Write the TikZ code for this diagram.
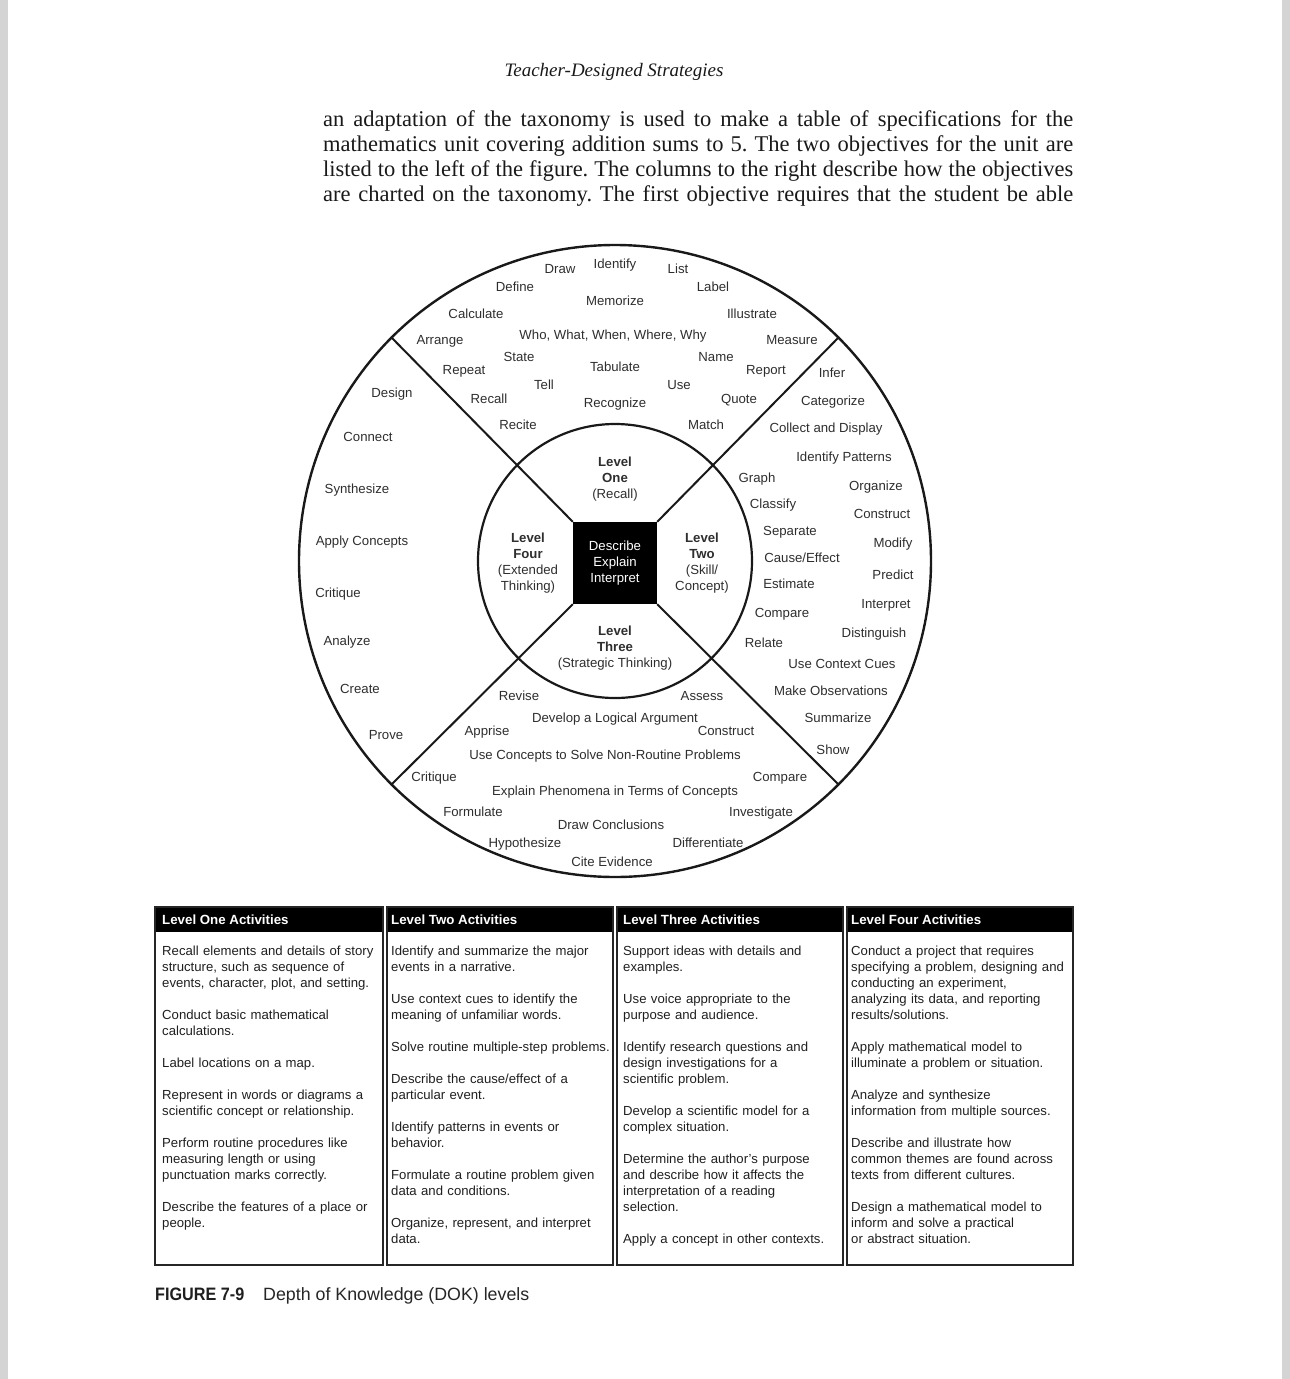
\documentclass[tikz,border=0pt]{standalone}
\usepackage{fontspec}
\setmainfont{Liberation Serif}
\setsansfont{Liberation Sans}
\usepackage{graphicx}
\frenchspacing
\colorlet{inkgray}{black!82}
\colorlet{pagegray}{black!17}
\tikzset{
  wlabel/.style={font=\sffamily\fontsize{13.2}{16}\selectfont, text=inkgray, inner sep=0pt, text height=9.5pt, text depth=0pt},
  levelbox/.style={font=\sffamily\fontsize{13.2}{16}\selectfont, text=inkgray, align=center, inner sep=0pt},
  wheelline/.style={draw=black!90, line width=2.2pt},
  colbox/.style={draw=black!85, line width=1.8pt},
  colhead/.style={font=\sffamily\bfseries\fontsize{13.3}{16}\selectfont, text=white, anchor=west, inner sep=0pt, text height=9.5pt, text depth=0pt},
  coltext/.style={font=\sffamily\fontsize{13.15}{16}\selectfont, text=black!88, anchor=north west, inner sep=0pt, text width=300pt, align=left},
  bodyline/.style={font=\fontsize{22.5}{25}\selectfont, text=black!90, anchor=base west, inner sep=0pt},
}
\begin{document}
\begin{tikzpicture}[x=1pt, y=-1pt]
  \useasboundingbox (0,0) rectangle (1290,1379);
  % Page edges
  \fill[pagegray] (0,0) rectangle (8,1379);
  \fill[pagegray] (1282,0) rectangle (1290,1379);
  % Running head and text
  \node[font=\itshape\fontsize{19}{22}\selectfont, text=black!90, anchor=base, inner sep=0pt] (runhead) at (614,76) {Teacher-Designed Strategies};
  \foreach \ln/\y [count=\i] in {
      {an adaptation of the taxonomy is used to make a table of specifications for the}/126,
      {mathematics unit covering addition sums to 5. The two objectives for the unit are}/151,
      {listed to the left of the figure. The columns to the right describe how the objectives}/176,
      {are charted on the taxonomy. The first objective requires that the student be able}/201}
    \node[bodyline] (line\i) at (323,\y) {\makebox[750pt][s]{\ln}};

  % Wheel
  \coordinate (hub) at (615,561);
  \draw[wheelline, line width=2.4pt] (hub) circle[radius=316];
  \draw[wheelline] (hub) circle[radius=137];
  \node[fill=black, minimum width=84pt, minimum height=82pt, inner sep=0pt, text=white, align=center,
        font=\sffamily\fontsize{13.2}{16}\selectfont] (core) at (615,563) {Describe\\Explain\\Interpret};
  \draw[wheelline, line width=2pt] (core.north west) -- ([shift={(225:317)}]hub);
  \draw[wheelline, line width=2pt] (core.north east) -- ([shift={(315:317)}]hub);
  \draw[wheelline, line width=2pt] (core.south west) -- ([shift={(135:317)}]hub);
  \draw[wheelline, line width=2pt] (core.south east) -- ([shift={(45:317)}]hub);
  % Level names
  \node[levelbox] (lvone) at (615,479) {\textbf{Level}\\\textbf{One}\\(Recall)};
  \node[levelbox] (lvtwo) at (702,563) {\textbf{Level}\\\textbf{Two}\\(Skill/\\Concept)};
  \node[levelbox] (lvthree) at (615,648) {\textbf{Level}\\\textbf{Three}\\(Strategic Thinking)};
  \node[levelbox] (lvfour) at (528,563) {\textbf{Level}\\\textbf{Four}\\(Extended\\Thinking)};

  % Level one verbs
  \foreach \txt/\x/\y [count=\i] in {Draw/560/269, Identify/615/264, List/678/269, Define/515/287,
      Label/713/287, Memorize/615/301, Calculate/476/314, Illustrate/752/314,
      {Who, What, When, Where, Why}/613/335, Arrange/440/340, Measure/792/340, State/519/357,
      Name/716/357, Tabulate/615/367, Repeat/464/370, Report/766/370, Tell/544/385, Use/679/385,
      Recall/489/399, Recognize/615/403, Quote/739/399, Recite/518/425, Match/706/425}
    \node[wlabel] (one\i) at (\x,\y) {\txt};
  % Level two verbs
  \foreach \txt/\x/\y [count=\i] in {Infer/832/373, Categorize/833/401, Collect and Display/826/428,
      Identify Patterns/844/457, Graph/757/478, Organize/876/486, Classify/773/504,
      Construct/882/514, Separate/790/531, Modify/893/543, {Cause/Effect}/802/558,
      Predict/893/575, Estimate/789/584, Interpret/886/604, Compare/782/613,
      Distinguish/874/633, Relate/764/643, Use Context Cues/842/664,
      Make Observations/831/691, Summarize/838/718, Show/833/750}
    \node[wlabel] (two\i) at (\x,\y) {\txt};
  % Level three verbs
  \foreach \txt/\x/\y [count=\i] in {Revise/519/696, Assess/702/696, Develop a Logical Argument/615/718,
      Apprise/487/731, Construct/726/731, Use Concepts to Solve Non-Routine Problems/605/755,
      Critique/434/777, Compare/780/777, Explain Phenomena in Terms of Concepts/615/791,
      Formulate/473/812, Investigate/761/812, Draw Conclusions/611/825,
      Hypothesize/525/843, Differentiate/708/843, Cite Evidence/612/862}
    \node[wlabel] (three\i) at (\x,\y) {\txt};
  % Level four verbs
  \foreach \txt/\x/\y [count=\i] in {Design/392/393, Connect/368/437, Synthesize/357/489,
      Apply Concepts/362/541, Critique/338/593, Analyze/347/641, Create/360/689, Prove/386/735}
    \node[wlabel] (four\i) at (\x,\y) {\txt};

  % Activities table
  \foreach \x/\X in {155/383, 387/613, 617/843, 847/1073} {
    \fill[black] (\x,907) rectangle (\X,932);
    \draw[colbox] (\x,907) rectangle (\X,1265);
  }
  \foreach \txt/\x [count=\i] in {Level One Activities/162, Level Two Activities/391,
      Level Three Activities/623, Level Four Activities/851}
    \node[colhead] (head\i) at (\x,920) {\txt};
  \node[coltext] (acts1) at (162,945.5) {Recall elements and details of story\\
    structure, such as sequence of\\
    events, character, plot, and setting.\\[16pt]
    Conduct basic mathematical\\
    calculations.\\[16pt]
    Label locations on a map.\\[16pt]
    Represent in words or diagrams a\\
    scientific concept or relationship.\\[16pt]
    Perform routine procedures like\\
    measuring length or using\\
    punctuation marks correctly.\\[16pt]
    Describe the features of a place or\\
    people.};
  \node[coltext] (acts2) at (391,945.5) {Identify and summarize the major\\
    events in a narrative.\\[16pt]
    Use context cues to identify the\\
    meaning of unfamiliar words.\\[16pt]
    Solve routine multiple-step problems.\\[16pt]
    Describe the cause/effect of a\\
    particular event.\\[16pt]
    Identify patterns in events or\\
    behavior.\\[16pt]
    Formulate a routine problem given\\
    data and conditions.\\[16pt]
    Organize, represent, and interpret\\
    data.};
  \node[coltext] (acts3) at (623,945.5) {Support ideas with details and\\
    examples.\\[16pt]
    Use voice appropriate to the\\
    purpose and audience.\\[16pt]
    Identify research questions and\\
    design investigations for a\\
    scientific problem.\\[16pt]
    Develop a scientific model for a\\
    complex situation.\\[16pt]
    Determine the author's purpose\\
    and describe how it affects the\\
    interpretation of a reading\\
    selection.\\[16pt]
    Apply a concept in other contexts.};
  \node[coltext] (acts4) at (851,945.5) {Conduct a project that requires\\
    specifying a problem, designing and\\
    conducting an experiment,\\
    analyzing its data, and reporting\\
    results/solutions.\\[16pt]
    Apply mathematical model to\\
    illuminate a problem or situation.\\[16pt]
    Analyze and synthesize\\
    information from multiple sources.\\[16pt]
    Describe and illustrate how\\
    common themes are found across\\
    texts from different cultures.\\[16pt]
    Design a mathematical model to\\
    inform and solve a practical\\
    or abstract situation.};

  % Caption
  \node[anchor=base west, inner sep=0pt, text=black!88, font=\sffamily\bfseries\fontsize{18}{20}\selectfont] (figno) at (155,1300) {\scalebox{0.9}[1]{FIGURE 7-9}};
  \node[anchor=base west, inner sep=0pt, text=black!85, font=\sffamily\fontsize{17.8}{20}\selectfont] (figcap) at (263,1300) {Depth of Knowledge (DOK) levels};
\end{tikzpicture}
\end{document}
